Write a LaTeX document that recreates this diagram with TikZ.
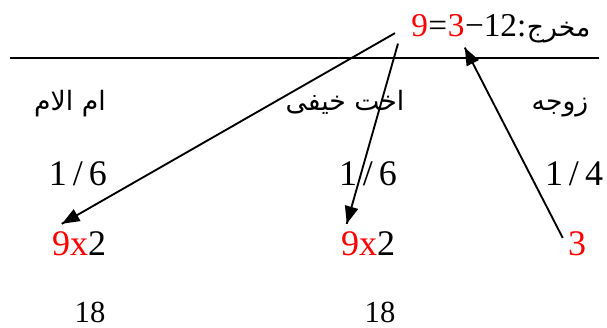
\documentclass[tikz,border=0pt]{standalone}
\usepackage{fontspec}
\setmainfont{Liberation Serif}
\newfontfamily\arabicfont[Script=Arabic]{DejaVu Sans}
\TeXXeTstate=1
\usetikzlibrary{positioning}
\usetikzlibrary{arrows.meta}
\usetikzlibrary{decorations.markings}
\tikzset{arr/.style = {line width = 1.4pt,
                       decoration={markings,
                                  mark=at position 0.999
                                  with {\arrow{Triangle[length=13pt, width=10pt]}}},
                      postaction={decorate}}}
\tikzset{num/.style = {inner sep = 0, font = \fontsize{27}{32}\selectfont}}
\tikzset{small/.style = {inner sep = 0, font = \fontsize{23}{28}\selectfont}}
\tikzset{head/.style = {inner sep = 0, font = \arabicfont\fontsize{20}{24}\selectfont}}

\begin{document}
\begin{tikzpicture}[x=0.75pt, y=-0.75pt]
    \useasboundingbox (0,0) rectangle (607,328);
    \draw[line width=1.5pt] (10,58) -- (599,58);

    % title line
    \node[num, red, anchor=base west, font=\fontsize{25}{30}\selectfont] (t9) at (411,37) {9};
    \node[num, anchor=base west, font=\fontsize{25}{30}\selectfont] (teq) at (t9.base east) {=};
    \node[num, red, anchor=base west, font=\fontsize{25}{30}\selectfont] (t3) at (teq.base east) {3};
    \node[num, anchor=base west, font=\fontsize{25}{30}\selectfont] (t12) at (t3.base east) {−12:};
    \node[head, anchor=base west] (tmx) at (t12.base east) {\beginR مخرج\endR};

    % heirs
    \node[head, anchor=base] (hl) at (70,110) {\beginR ام الام\endR};
    \node[head, anchor=base] (hm) at (345,110) {\beginR اخت خیفی\endR};
    \node[head, anchor=base] (hr) at (560,110) {\beginR زوجه\endR};

    \node[num, anchor=base] (fl) at (78,185) {1\,/\,6};
    \node[num, anchor=base] (fm) at (368,185) {1\,/\,6};
    \node[num, anchor=base] (fr) at (574,185) {1\,/\,4};

    \node[num, anchor=base] (sl) at (79,255) {\textcolor{red}{9x}2};
    \node[num, anchor=base] (sm) at (368,255) {\textcolor{red}{9x}2};
    \node[num, anchor=base, red] (sr) at (577,255) {3};

    \node[small, anchor=base] (rl) at (90,322) {18};
    \node[small, anchor=base] (rm) at (380,322) {18};

    \draw[arr] ([shift={(-16,7)}]t9.west) -- ([shift={(10,-7)}]sl.north west);
    \draw[arr] ([shift={(-13,6)}]t9.south west) -- ([shift={(6,-7)}]sm.north west);
    \draw[arr] ([shift={(-5,7)}]sr.north west) -- ([shift={(0,10)}]t3.south east);
\end{tikzpicture}
\end{document}
